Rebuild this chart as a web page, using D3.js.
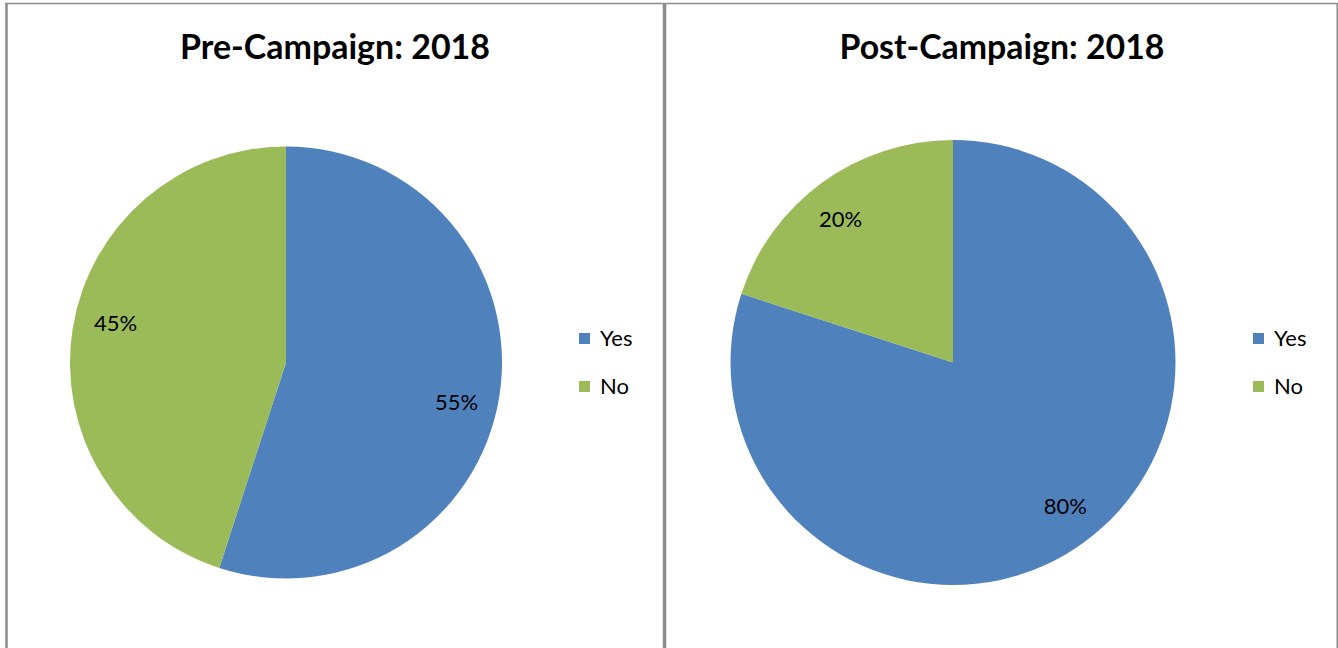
<!DOCTYPE html>
<html><head><meta charset="utf-8">
<script src="https://cdn.jsdelivr.net/npm/d3@7"></script>
<style>html,body{margin:0;padding:0;background:#fff;}svg{display:block;}</style>
</head><body>
<svg id="c" width="1338" height="648"></svg>
<script>
const categories = ["Yes", "No"];
const preValues = [55, 45];
const postValues = [80, 20];
const chartTitles = ["Pre-Campaign: 2018", "Post-Campaign: 2018"];
const colors = ["#4F81BD", "#9BBB59"];

const svg = d3.select("#c");
const font = "Lato, 'Open Sans', sans-serif";

// frames
const g0 = svg.append("g");
g0.append("line").attr("x1", 5).attr("x2", 1338).attr("y1", 3.5).attr("y2", 3.5).attr("stroke", "#8c8c8c").attr("stroke-width", 1.5);
g0.append("line").attr("x1", 6.5).attr("x2", 6.5).attr("y1", 3).attr("y2", 648).attr("stroke", "#8c8c8c").attr("stroke-width", 2.5);
g0.append("line").attr("x1", 664.5).attr("x2", 664.5).attr("y1", 3).attr("y2", 648).attr("stroke", "#8c8c8c").attr("stroke-width", 3.5);
g0.append("line").attr("x1", 1337.2).attr("x2", 1337.2).attr("y1", 3).attr("y2", 648).attr("stroke", "#8c8c8c").attr("stroke-width", 1.5);

const panels = [
  {values: preValues, title: chartTitles[0], cx: 286, cy: 362.5, r: 216, titleX: 335, titleW: 310, legX: 579, labelK: 0.81, rot: 4},
  {values: postValues, title: chartTitles[1], cx: 953, cy: 362.5, r: 222.5, titleX: 1002, titleW: 325, legX: 1253, labelK: 0.82, rot: -2}
];

const color = d3.scaleOrdinal().domain(categories).range(colors);
const pie = d3.pie().sort(null).value(d => d.value);

panels.forEach(p => {
  const data = categories.map((c, i) => ({cat: c, value: p.values[i]}));
  const arcs = pie(data);
  const g = svg.append("g").attr("transform", `translate(${p.cx},${p.cy})`);
  const arc = d3.arc().innerRadius(0).outerRadius(p.r);
  const rr = p.r * p.labelK;
  const rotRad = p.rot * Math.PI / 180;
  const labelArc = d3.arc().innerRadius(rr).outerRadius(rr);
  g.selectAll("path").data(arcs).join("path")
    .attr("d", arc).attr("fill", d => color(d.data.cat));
  g.selectAll("text").data(arcs).join("text")
    .attr("transform", d => `translate(${labelArc.centroid({startAngle: d.startAngle + rotRad, endAngle: d.endAngle + rotRad})})`)
    .attr("text-anchor", "middle").attr("dy", "0.36em")
    .attr("font-family", font).attr("font-size", 22).attr("fill", "#000")
    .text(d => d.data.value + "%");

  svg.append("text").attr("x", p.titleX).attr("y", 59)
    .attr("text-anchor", "middle").attr("font-family", font)
    .attr("font-weight", "bold").attr("font-size", 34).attr("fill", "#000")
    .attr("textLength", p.titleW).attr("lengthAdjust", "spacingAndGlyphs")
    .text(p.title);

  const leg = svg.append("g");
  const legScale = d3.scaleBand().domain(categories).range([328, 424]);
  categories.forEach(c => {
    const y = legScale(c);
    leg.append("rect").attr("x", p.legX).attr("y", y + 5).attr("width", 11).attr("height", 11).attr("fill", color(c));
    leg.append("text").attr("x", p.legX + 21).attr("y", y + 18)
      .attr("font-family", font).attr("font-size", 22).attr("fill", "#000").text(c);
  });
});
</script>
</body></html>
